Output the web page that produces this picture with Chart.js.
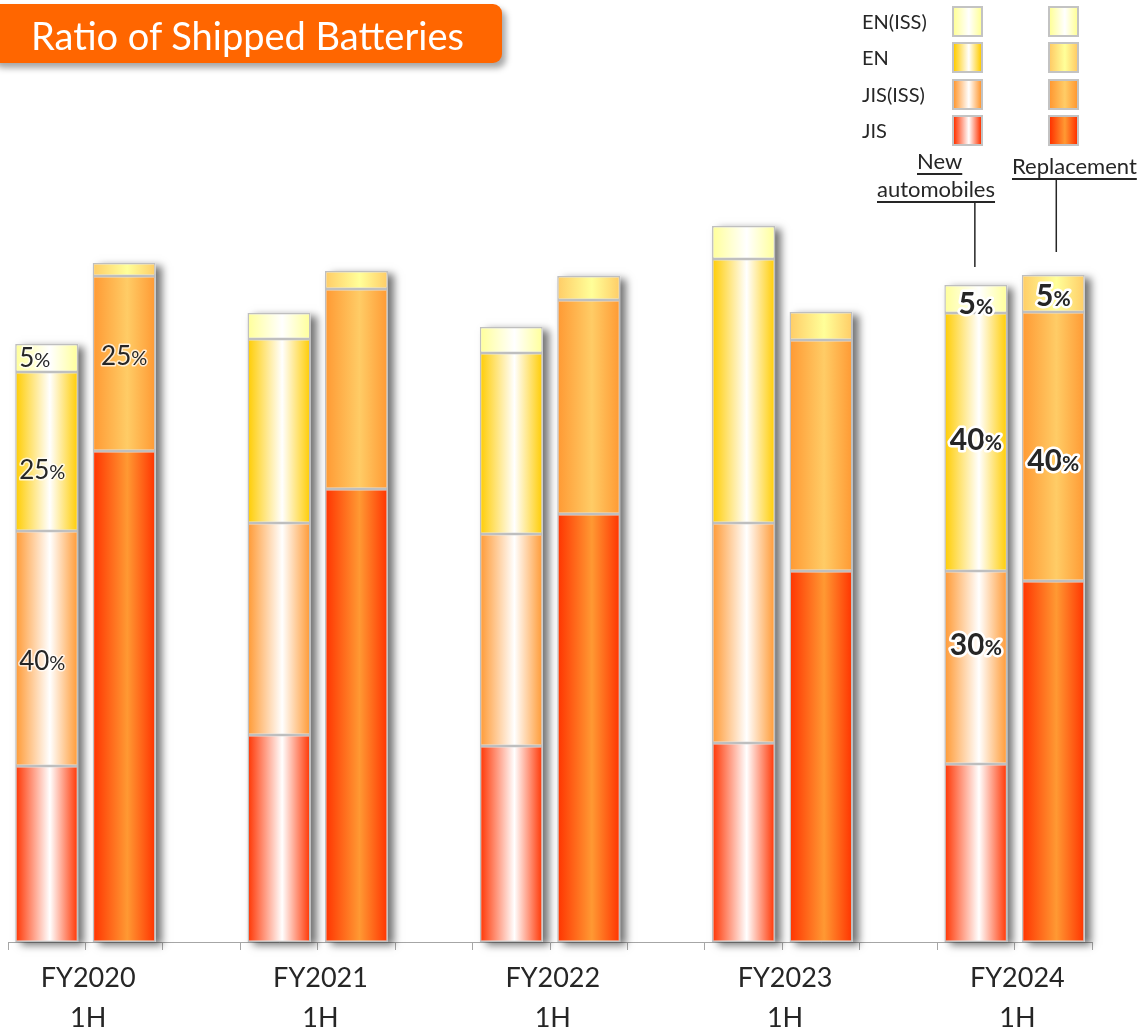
<!DOCTYPE html>
<html>
<head>
<meta charset="utf-8">
<title>Ratio of Shipped Batteries</title>
<script src="https://cdn.jsdelivr.net/npm/chart.js@4.4.1/dist/chart.umd.min.js"></script>
<style>
  html, body { margin: 0; padding: 0; background: #fff; }
  body { width: 1141px; height: 1030px; overflow: hidden; position: relative; font-family: Lato, "Open Sans", sans-serif; color: #262626; }
  #wrap { position: absolute; left: 0; top: 0; width: 1141px; height: 1030px; }
  .title {
    position: absolute; left: -10px; top: 4px; width: 512px; height: 59px;
    background: #ff6600; border-radius: 9px; box-shadow: 4px 5px 6px rgba(0,0,0,0.35);
    color: #fff; font-size: 38px; line-height: 62px; padding-left: 41px; box-sizing: border-box;
  }
  .lg-label { position: absolute; left: 862px; font-size: 20px; line-height: 30px; }
  .lg-swatch { position: absolute; width: 31px; height: 31px; box-sizing: border-box; border: 2px solid #c3c3c3; }
  .note { position: absolute; font-size: 22px; line-height: 26px; text-decoration: underline; text-underline-offset: 4px; text-decoration-thickness: 1.5px; }
</style>
</head>
<body>
<div id="wrap"><canvas id="barChart"></canvas></div>
<div class="title">Ratio of Shipped Batteries</div>
<div id="legend"></div>
<div class="note" style="left:917px; top:148px;">New</div>
<div class="note" style="left:877px; top:176px;">automobiles</div>
<div class="note" style="left:1012px; top:153px;">Replacement</div>
<script>
// fiscal half-years on the x axis
const groups = ['FY2020', 'FY2021', 'FY2022', 'FY2023', 'FY2024'];
const half = '1H';
// stacked bottom to top
const seriesNames = ['JIS', 'JIS(ISS)', 'EN', 'EN(ISS)'];

// shipments for new automobiles (index units)
const newJIS    = [176, 207, 196, 199, 178];
const newJISISS = [235, 212, 212, 220, 193];
const newEN     = [159, 184, 181, 264, 258];
const newENISS  = [28, 26, 26, 33, 28];

// shipments for replacement
const repJIS    = [491, 453, 428, 371, 361];
const repJISISS = [175, 200, 214, 231, 269];
const repEN     = [13, 18, 24, 28, 37];
const repENISS  = [null, null, null, null, null];

// edge / centre colours of the bar gradients
const newColors = [['#ff3300', '#ffffff'], ['#ff9933', '#ffffff'], ['#ffcc00', '#ffffff'], ['#ffff99', '#ffffff']];
const repColors = [['#ff3300', '#ff9933'], ['#ff9933', '#ffcc66'], ['#ffcc66', '#ffff99'], ['#ffff99', '#ffffff']];

// segments that carry a percentage label
const labelled = [
  { group: 0, kind: 'new', series: 3, bold: false, align: 'left', dy: 0 },
  { group: 0, kind: 'new', series: 2, bold: false, align: 'left', dy: 18 },
  { group: 0, kind: 'new', series: 1, bold: false, align: 'left', dy: 12 },
  { group: 0, kind: 'rep', series: 1, bold: false, align: 'center', dy: -8 },
  { group: 4, kind: 'new', series: 3, bold: true, align: 'center', dy: 4 },
  { group: 4, kind: 'new', series: 2, bold: true, align: 'center', dy: -3 },
  { group: 4, kind: 'new', series: 1, bold: true, align: 'center', dy: -23 },
  { group: 4, kind: 'rep', series: 2, bold: true, align: 'center', dy: 2 },
  { group: 4, kind: 'rep', series: 1, bold: true, align: 'center', dy: 14 }
];

const BAR_PCT = 0.814;

// two bars per year with an empty slot between years
const slots = [];
groups.forEach((g, i) => {
  slots.push({ kind: 'new', group: i });
  slots.push({ kind: 'rep', group: i });
  if (i < groups.length - 1) slots.push({ kind: null, group: i });
});
function slotIndex(group, kind) {
  return slots.findIndex(s => s.group === group && s.kind === kind);
}
function toSlots(newVals, repVals) {
  return slots.map(s => s.kind === 'new' ? newVals[s.group] : s.kind === 'rep' ? repVals[s.group] : null);
}

const seriesData = [
  toSlots(newJIS, repJIS),
  toSlots(newJISISS, repJISISS),
  toSlots(newEN, repEN),
  toSlots(newENISS, repENISS)
];

function barGradient(series) {
  return function (context) {
    const chart = context.chart;
    const s = slots[context.dataIndex];
    const pal = (s && s.kind === 'rep') ? repColors : newColors;
    const [edge, mid] = pal[series];
    if (!chart.chartArea || context.dataIndex === undefined) return edge;
    const xs = chart.scales.x;
    const cx = xs.getPixelForValue(context.dataIndex);
    const w = xs.width / slots.length * BAR_PCT;
    const g = chart.ctx.createLinearGradient(cx - w / 2, 0, cx + w / 2, 0);
    g.addColorStop(0, edge);
    g.addColorStop(0.55, mid);
    g.addColorStop(1, edge);
    return g;
  };
}

// soft drop shadow behind every stack
const barShadow = {
  id: 'barShadow',
  beforeDatasetsDraw(chart) {
    const ctx = chart.ctx;
    ctx.save();
    ctx.fillStyle = '#ffffff';
    ctx.shadowColor = 'rgba(0,0,0,0.55)';
    ctx.shadowBlur = 8;
    ctx.shadowOffsetX = 6;
    ctx.shadowOffsetY = 3;
    slots.forEach((s, i) => {
      if (!s.kind) return;
      let top = null, base = null, x = null, w = null;
      chart.data.datasets.forEach((ds, d) => {
        if (ds.data[i] == null) return;
        const el = chart.getDatasetMeta(d).data[i];
        if (base === null) base = el.base;
        top = el.y; x = el.x; w = el.width;
      });
      if (top === null) return;
      ctx.fillRect(x - w / 2, top, w, base - top);
    });
    ctx.restore();
  }
};

// percentage labels, rounded to the nearest 5 %
const shareLabels = {
  id: 'shareLabels',
  afterDatasetsDraw(chart) {
    const ctx = chart.ctx;
    ctx.save();
    labelled.forEach(l => {
      const i = slotIndex(l.group, l.kind);
      const total = chart.data.datasets.reduce((a, ds) => a + (ds.data[i] || 0), 0);
      const v = chart.data.datasets[l.series].data[i];
      const pct = Math.round(v / total * 100 / 5) * 5;
      const el = chart.getDatasetMeta(l.series).data[i];
      const big = l.bold ? 30 : 26, small = l.bold ? 21 : 20;
      const weight = l.bold ? 'bold ' : '';
      const numFont = weight + big + 'px Lato';
      const pctFont = weight + small + 'px Lato';
      ctx.font = numFont;
      const nw = ctx.measureText(String(pct)).width;
      ctx.font = pctFont;
      const pw = ctx.measureText('%').width;
      const tw = nw + pw;
      const x0 = l.align === 'left' ? el.x - el.width / 2 + 4 : el.x - tw / 2;
      const y = (el.y + el.base) / 2 + l.dy + big * 0.36;
      ctx.textBaseline = 'alphabetic';
      ctx.lineJoin = 'round';
      ctx.strokeStyle = l.bold ? '#ffffff' : 'rgba(255,255,255,0.75)';
      ctx.lineWidth = l.bold ? 5 : 3;
      ctx.fillStyle = '#262626';
      ctx.font = numFont;
      ctx.strokeText(String(pct), x0, y);
      ctx.fillText(String(pct), x0, y);
      ctx.font = pctFont;
      ctx.strokeText('%', x0 + nw, y);
      ctx.fillText('%', x0 + nw, y);
    });
    ctx.restore();
  }
};

// leader lines from the notes down to the FY2024 bars
const leaders = {
  id: 'leaders',
  afterDraw(chart) {
    const ctx = chart.ctx;
    const last = groups.length - 1;
    const nEl = chart.getDatasetMeta(0).data[slotIndex(last, 'new')];
    const rEl = chart.getDatasetMeta(0).data[slotIndex(last, 'rep')];
    ctx.save();
    ctx.strokeStyle = '#262626';
    ctx.lineWidth = 1.5;
    ctx.beginPath();
    ctx.moveTo(nEl.x - 1, 202); ctx.lineTo(nEl.x - 1, 267);
    ctx.moveTo(rEl.x + 3, 180); ctx.lineTo(rEl.x + 3, 252);
    ctx.stroke();
    ctx.restore();
  }
};

const ctx = document.getElementById('barChart').getContext('2d');

const barChart = new Chart(ctx, {
  type: 'bar',
  data: {
    labels: slots.map((s, i) => s.kind ? groups[s.group] + ' ' + s.kind : 'gap' + i),
    datasets: seriesNames.map((name, k) => ({
      label: name,
      data: seriesData[k],
      backgroundColor: barGradient(k),
      borderColor: '#bfbfbf',
      borderWidth: 1.5,
      borderSkipped: false,
      stack: 'ratio',
      barPercentage: BAR_PCT,
      categoryPercentage: 1
    }))
  },
  options: {
    responsive: true,
    maintainAspectRatio: false,
    animation: false,
    layout: { padding: { left: 8, right: 49, top: 142, bottom: 0 } },
    plugins: {
      legend: { display: false },
      title: { display: false },
      tooltip: { enabled: false }
    },
    scales: {
      x: {
        stacked: true,
        offset: true,
        grid: { display: true, offset: true, drawOnChartArea: false, drawTicks: true, tickLength: 8, color: '#a6a6a6' },
        border: { display: true, color: '#a6a6a6', width: 1 },
        ticks: {
          autoSkip: false,
          maxRotation: 0,
          padding: 8,
          color: '#262626',
          font: { family: 'Lato', size: 27, lineHeight: 1.48 },
          labelOffset: 41.5,
          callback: (value, index) => {
            const s = slots[index];
            return (s.kind === 'new') ? [groups[s.group], half] : '';
          }
        },
        afterFit: (scale) => {
          scale.height = 88;
          scale.paddingLeft = 0;
          scale.paddingRight = 0;
        }
      },
      y: {
        stacked: true,
        display: false,
        min: 0,
        max: 800
      }
    }
  },
  plugins: [barShadow, shareLabels, leaders]
});

// legend: two swatch columns (new automobiles / replacement)
const legend = document.getElementById('legend');
seriesNames.slice().reverse().forEach((name, r) => {
  const k = seriesNames.length - 1 - r;
  const top = 6 + r * 36.3;
  const lab = document.createElement('div');
  lab.className = 'lg-label';
  lab.style.top = top + 'px';
  lab.textContent = name;
  legend.appendChild(lab);
  [[newColors, 952], [repColors, 1048]].forEach(([pal, left]) => {
    const sw = document.createElement('div');
    sw.className = 'lg-swatch';
    sw.style.left = left + 'px';
    sw.style.top = top + 'px';
    sw.style.background = 'linear-gradient(90deg, ' + pal[k][0] + ' 0%, ' + pal[k][1] + ' 55%, ' + pal[k][0] + ' 100%)';
    legend.appendChild(sw);
  });
});
</script>
</body>
</html>
